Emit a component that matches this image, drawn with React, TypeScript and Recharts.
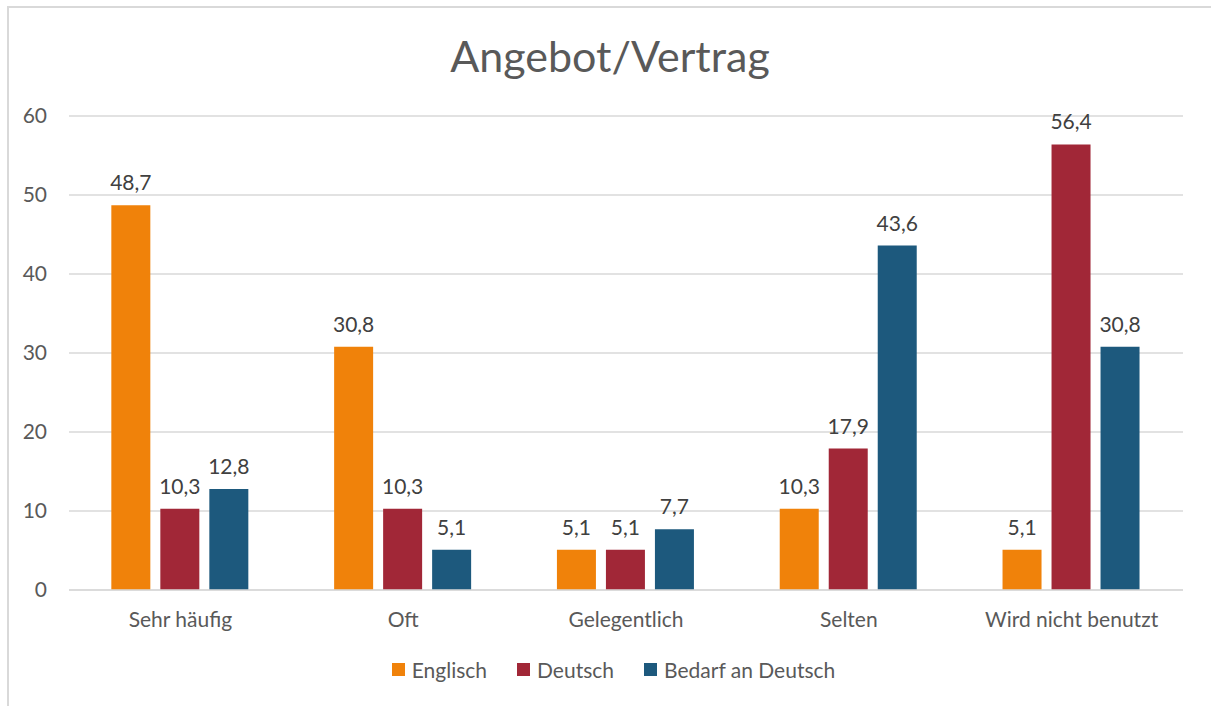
import React from 'react';
import { BarChart, Bar, XAxis, YAxis, CartesianGrid, Legend, LabelList } from 'recharts';

const categories = ['Sehr häufig', 'Oft', 'Gelegentlich', 'Selten', 'Wird nicht benutzt'];
const englisch = [48.7, 30.8, 5.1, 10.3, 5.1];
const deutsch = [10.3, 10.3, 5.1, 17.9, 56.4];
const bedarf = [12.8, 5.1, 7.7, 43.6, 30.8];
const yTicks = [0, 10, 20, 30, 40, 50, 60];

const seriesMeta = [
  { key: 'englisch', name: 'Englisch', color: '#F0820A' },
  { key: 'deutsch', name: 'Deutsch', color: '#A12737' },
  { key: 'bedarf', name: 'Bedarf an Deutsch', color: '#1D597D' },
];

const data = categories.map((c, i) => ({
  name: c,
  englisch: englisch[i],
  deutsch: deutsch[i],
  bedarf: bedarf[i],
}));

const FONT = 'Lato, "Open Sans", sans-serif';
const TEXT = '#595959';

const fmt = (v: any) => String(v).replace('.', ',');

const LegendContent = () => (
  <div style={{ display: 'flex', justifyContent: 'center', fontFamily: FONT, fontSize: 21, color: TEXT }}>
    {seriesMeta.map((s) => (
      <div key={s.key} style={{ display: 'flex', alignItems: 'center', margin: '0 15px' }}>
        <span style={{ width: 13, height: 13, background: s.color, display: 'inline-block', marginRight: 7 }} />
        <span>{s.name}</span>
      </div>
    ))}
  </div>
);

const App: React.FC = () => {
  return (
    <div style={{ position: 'absolute', left: 0, top: 0, width: 1211, height: 706, overflow: 'hidden', background: '#fff' }}>
      <div
        style={{
          position: 'absolute',
          left: 7,
          top: 6,
          width: 1300,
          height: 800,
          border: '2px solid #d9d9d9',
          boxSizing: 'border-box',
        }}
      />
      <div
        style={{
          position: 'absolute',
          left: 0,
          width: 1220,
          top: 29,
          textAlign: 'center',
          fontFamily: FONT,
          fontSize: 43,
          color: TEXT,
          lineHeight: '54px',
        }}
      >
        Angebot/Vertrag
      </div>
      <div style={{ position: 'absolute', left: 0, top: 0 }}>
        <BarChart
          width={1211}
          height={706}
          data={data}
          margin={{ top: 116, right: 28, bottom: 76, left: 0 }}
          barCategoryGap="19%"
          barGap={10}
        >
          <CartesianGrid vertical={false} stroke="#d9d9d9" strokeWidth={1.5} />
          <XAxis
            dataKey="name"
            height={40}
            tickLine={false}
            axisLine={{ stroke: '#d9d9d9', strokeWidth: 1.5 }}
            tickMargin={16}
            tick={{ fill: TEXT, fontSize: 21, fontFamily: FONT }}
          />
          <YAxis
            width={69}
            domain={[0, 60]}
            ticks={yTicks}
            tickLine={false}
            axisLine={false}
            tickMargin={16}
            tick={{ fill: TEXT, fontSize: 21, fontFamily: FONT }}
          />
          <Legend
            verticalAlign="middle"
            content={<LegendContent />}
            wrapperStyle={{ position: 'absolute', top: 657, left: 8, width: 1211 }}
          />
          {seriesMeta.map((s) => (
            <Bar key={s.key} dataKey={s.key} name={s.name} fill={s.color} isAnimationActive={false}>
              <LabelList
                dataKey={s.key}
                position="top"
                offset={15}
                formatter={fmt}
                style={{ fill: '#404040', fontSize: 21, fontFamily: FONT }}
              />
            </Bar>
          ))}
        </BarChart>
      </div>
    </div>
  );
};

export default App;
